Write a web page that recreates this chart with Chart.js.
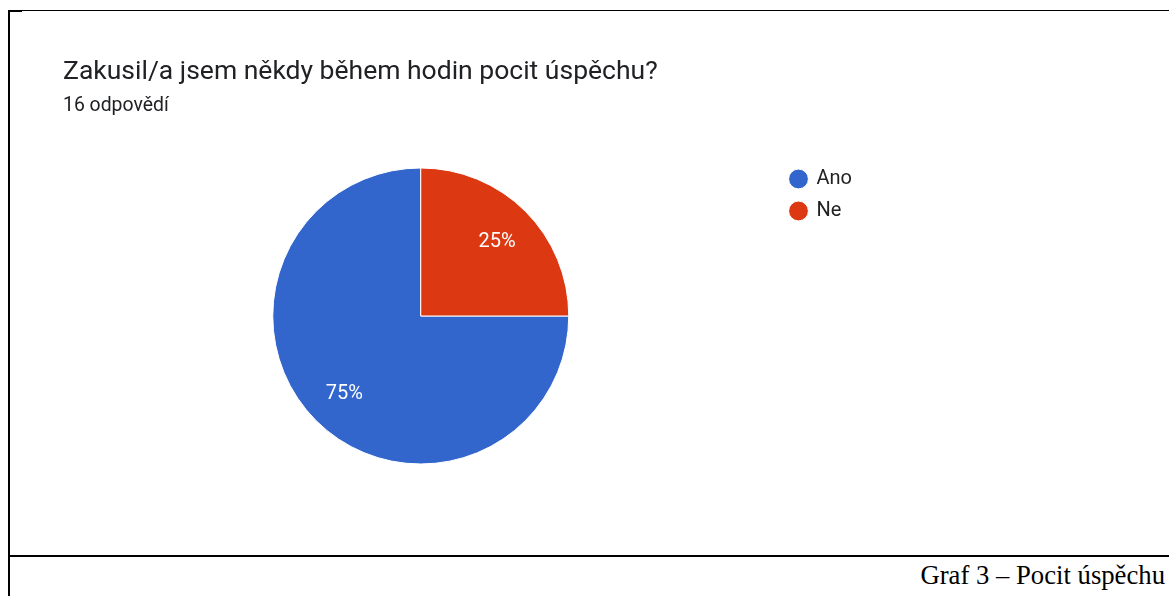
<!DOCTYPE html>
<html>
<head>
<meta charset="utf-8">
<script src="https://cdn.jsdelivr.net/npm/chart.js@4"></script>
<style>
  html, body { margin: 0; padding: 0; background: #fff; }
  #page { position: relative; width: 1169px; height: 596px; overflow: hidden; }
  #chart { position: absolute; left: 0; top: 0; }
  .rule { position: absolute; background: #000; }
  #caption {
    position: absolute; right: 4px; top: 560px;
    font-family: "Liberation Serif", "Times New Roman", serif;
    font-size: 26.7px; line-height: 30px; color: #000;
  }
</style>
</head>
<body>
<div id="page">
  <div class="rule" style="left:8px; top:10px; width:1161px; height:1px;"></div>
  <div class="rule" style="left:8px; top:10px; width:14px; height:2px;"></div>
  <div class="rule" style="left:8px; top:10px; width:2px; height:586px;"></div>
  <div class="rule" style="left:8px; top:555px; width:1161px; height:2px;"></div>
  <canvas id="chart" width="1169" height="555"></canvas>
  <div id="caption">Graf 3 – Pocit úspěchu</div>
</div>
<script>
const otazka = 'Zakusil/a jsem někdy během hodin pocit úspěchu?';
const pocetOdpovedi = '16 odpovědí';
const odpovedi = ['Ano', 'Ne'];
const pocty = [12, 4];
const barvy = ['#3366cc', '#dc3912'];

// procenta do vysecí, bile, trochu od stredu
const procentaPlugin = {
    id: 'procenta',
    afterDatasetsDraw(chart) {
        const ctx = chart.ctx;
        const meta = chart.getDatasetMeta(0);
        const total = pocty.reduce((a, b) => a + b, 0);
        ctx.save();
        ctx.fillStyle = '#ffffff';
        ctx.font = '20px Roboto';
        ctx.textAlign = 'center';
        ctx.textBaseline = 'alphabetic';
        meta.data.forEach((arc, i) => {
            const p = arc.getProps(['x', 'y', 'startAngle', 'endAngle', 'outerRadius'], true);
            const uhel = (p.startAngle + p.endAngle) / 2;
            const r = p.outerRadius * 0.73;
            const txt = Math.round(pocty[i] / total * 100) + '%';
            // baseline o pul vysky cislic niz
            ctx.fillText(txt, p.x + Math.cos(uhel) * r, p.y + Math.sin(uhel) * r + 7);
        });
        ctx.restore();
    }
};

const ctx = document.getElementById('chart').getContext('2d');
const pie = new Chart(ctx, {
    type: 'pie',
    data: {
        labels: odpovedi,
        datasets: [{
            data: pocty,
            backgroundColor: barvy,
            borderColor: '#ffffff',
            borderWidth: 1,
            radius: 148
        }]
    },
    options: {
        responsive: false,
        animation: false,
        rotation: 90,       // zacina na 3 hodinach
        layout: {
            padding: { left: 63, right: 307, top: 0, bottom: 80 }
        },
        plugins: {
            title: {
                display: true,
                text: otazka,
                align: 'start',
                color: '#202124',
                font: { family: 'Roboto', size: 26.5, weight: 'normal', lineHeight: 1.2 },
                padding: { top: 56.5, bottom: 0 }
            },
            subtitle: {
                display: true,
                text: pocetOdpovedi,
                align: 'start',
                color: '#202124',
                font: { family: 'Roboto', size: 19.4, weight: 'normal', lineHeight: 1.2 },
                padding: { top: 6.25, bottom: 39.15 }
            },
            legend: {
                display: true,
                position: 'right',
                align: 'start',
                fullSize: false,
                labels: {
                    usePointStyle: true,
                    pointStyle: 'circle',
                    boxWidth: 16,
                    boxHeight: 14,
                    padding: 12,
                    color: '#222222',
                    font: { family: 'Roboto', size: 20 }
                }
            },
            tooltip: { enabled: false }
        }
    },
    plugins: [procentaPlugin]
});
</script>
</body>
</html>
